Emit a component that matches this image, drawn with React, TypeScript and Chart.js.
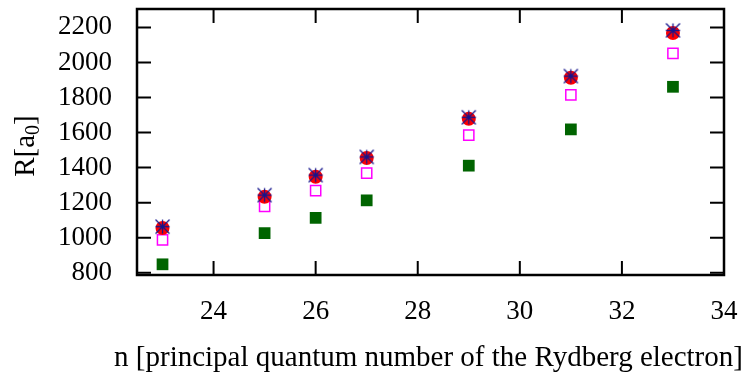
import React, { useEffect, useRef } from 'react';
import { Chart, registerables } from 'chart.js';

Chart.register(...registerables);

const nValues = [23, 25, 26, 27, 29, 31, 33];
const starValues = [1063, 1243, 1357, 1461, 1687, 1922, 2183];
const circleValues = [1055, 1233, 1348, 1455, 1678, 1913, 2168];
const openSquareValues = [987, 1178, 1268, 1368, 1585, 1815, 2052];
const filledSquareValues = [848, 1026, 1113, 1213, 1411, 1618, 1861];

const xTicks = [24, 26, 28, 30, 32, 34];
const yTicks = [800, 1000, 1200, 1400, 1600, 1800, 2000, 2200];

const xTitle = 'n [principal quantum number of the Rydberg electron]';
const yTitleMain = 'R[a';
const yTitleSub = '0';
const yTitleEnd = ']';

const FONT = "'Liberation Serif', 'Times New Roman', serif";

function makeAsterisk(): HTMLCanvasElement {
  const c = document.createElement('canvas');
  c.width = 17;
  c.height = 17;
  const g = c.getContext('2d')!;
  const m = 8.5;
  const h = 7;
  g.strokeStyle = '#14148c';
  g.lineWidth = 1.3;
  g.beginPath();
  g.moveTo(m - h, m);
  g.lineTo(m + h, m);
  g.moveTo(m, m - h);
  g.lineTo(m, m + h);
  g.moveTo(m - h, m - h);
  g.lineTo(m + h, m + h);
  g.moveTo(m - h, m + h);
  g.lineTo(m + h, m - h);
  g.stroke();
  return c;
}

const pts = (ys: number[]) => nValues.map((n, i) => ({ x: n, y: ys[i] }));

const zeroPadding = (s: any) => {
  s.paddingTop = 0;
  s.paddingBottom = 0;
  s.paddingLeft = 0;
  s.paddingRight = 0;
};

export default function App() {
  const ref = useRef<HTMLCanvasElement | null>(null);

  useEffect(() => {
    if (!ref.current) return;
    const framePlugin = {
      id: 'gnuFrame',
      beforeDatasetsDraw(chart: any) {
        const { ctx, chartArea, scales } = chart;
        const { left, right, top, bottom } = chartArea;
        ctx.save();
        ctx.strokeStyle = '#000';
        ctx.lineWidth = 2;
        ctx.beginPath();
        for (const v of xTicks) {
          const px = scales.x.getPixelForValue(v);
          ctx.moveTo(px, bottom);
          ctx.lineTo(px, bottom - 14);
          ctx.moveTo(px, top);
          ctx.lineTo(px, top + 14);
        }
        for (const v of yTicks) {
          const py = scales.y.getPixelForValue(v);
          ctx.moveTo(left, py);
          ctx.lineTo(left + 14, py);
          ctx.moveTo(right, py);
          ctx.lineTo(right - 14, py);
        }
        ctx.stroke();
        ctx.lineWidth = 2.5;
        ctx.strokeRect(left, top, right - left, bottom - top);

        // x title
        ctx.fillStyle = '#000';
        ctx.font = `29px ${FONT}`;
        ctx.textAlign = 'center';
        ctx.textBaseline = 'alphabetic';
        ctx.fillText(xTitle, (left + right) / 2 - 2, 366);

        // y title (rotated, with subscript)
        const cy = (top + bottom) / 2 + 4;
        ctx.save();
        ctx.translate(34, cy);
        ctx.rotate(-Math.PI / 2);
        ctx.textAlign = 'left';
        ctx.font = `29px ${FONT}`;
        const w1 = ctx.measureText(yTitleMain).width;
        const w3 = ctx.measureText(yTitleEnd).width;
        ctx.font = `20px ${FONT}`;
        const w2 = ctx.measureText(yTitleSub).width;
        let x0 = -(w1 + w2 + w3) / 2;
        ctx.font = `29px ${FONT}`;
        ctx.fillText(yTitleMain, x0, 0);
        x0 += w1;
        ctx.font = `20px ${FONT}`;
        ctx.fillText(yTitleSub, x0, 5);
        x0 += w2;
        ctx.font = `29px ${FONT}`;
        ctx.fillText(yTitleEnd, x0, 0);
        ctx.restore();
        ctx.restore();
      },
    };

    const chart = new Chart(ref.current, {
      type: 'scatter',
      data: {
        datasets: [
          {
            label: 'star',
            data: pts(starValues),
            pointStyle: makeAsterisk(),
            pointRadius: 8,
          },
          {
            label: 'circle',
            data: pts(circleValues),
            pointStyle: 'circle',
            pointRadius: 7,
            backgroundColor: '#ff0000',
            borderColor: '#ff0000',
            borderWidth: 0,
          },
          {
            label: 'open square',
            data: pts(openSquareValues),
            pointStyle: 'rect',
            pointRadius: 7.2,
            backgroundColor: 'rgba(0,0,0,0)',
            borderColor: '#ff00ff',
            borderWidth: 1.5,
          },
          {
            label: 'filled square',
            data: pts(filledSquareValues),
            pointStyle: 'rect',
            pointRadius: 8.3,
            backgroundColor: '#006400',
            borderColor: '#006400',
            borderWidth: 0,
          },
        ] as any,
      },
      options: {
        animation: false,
        responsive: false,
        maintainAspectRatio: false,
        devicePixelRatio: 1,
        layout: { padding: { left: 0, top: 1, right: 19, bottom: 0 } },
        plugins: {
          legend: { display: false },
          tooltip: { enabled: false },
        },
        scales: {
          x: {
            type: 'linear',
            min: 22.5,
            max: 34,
            grid: { display: false },
            border: { display: false },
            afterBuildTicks: (s: any) => {
              s.ticks = xTicks.map((v) => ({ value: v }));
            },
            afterFit: (s: any) => {
              s.height = 99;
              zeroPadding(s);
            },
            ticks: {
              padding: 13,
              color: '#000',
              font: { family: FONT, size: 27 },
              maxRotation: 0,
              callback: (v: any) => String(v),
            },
          },
          y: {
            type: 'linear',
            min: 787,
            max: 2305,
            grid: { display: false },
            border: { display: false },
            afterBuildTicks: (s: any) => {
              s.ticks = yTicks.map((v) => ({ value: v }));
            },
            afterFit: (s: any) => {
              s.width = 137;
              zeroPadding(s);
            },
            ticks: {
              padding: 17,
              color: '#000',
              font: { family: FONT, size: 27 },
              callback: (v: any) => String(v),
            },
          },
        },
      },
      plugins: [framePlugin],
    } as any);
    return () => chart.destroy();
  }, []);

  return (
    <div style={{ position: 'fixed', left: 0, top: 0, width: 743, height: 374, background: '#fff' }}>
      <canvas ref={ref} width={743} height={374} style={{ display: 'block' }} />
    </div>
  );
}
